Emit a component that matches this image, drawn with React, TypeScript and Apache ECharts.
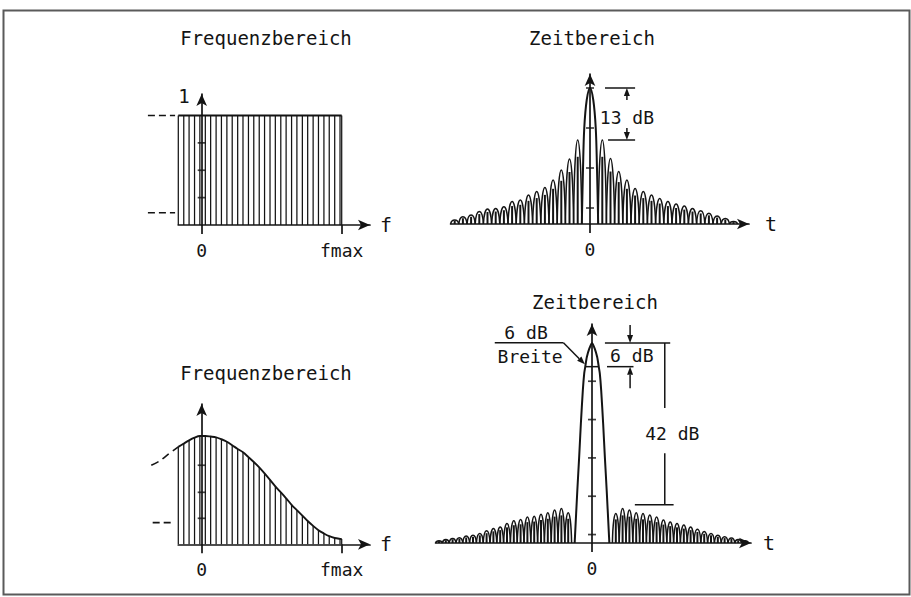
import React, { useEffect, useRef } from 'react';
import * as echarts from 'echarts';

// ---------- data ----------
// frequency sample positions, in units of fmax
const freqSamples = [-0.167, -0.128, -0.09, -0.051, -0.013, 0.026, 0.064, 0.103, 0.141, 0.18, 0.218, 0.257, 0.295, 0.334, 0.372, 0.411, 0.449, 0.488, 0.526, 0.565, 0.603, 0.642, 0.68, 0.719, 0.757, 0.796, 0.834, 0.873, 0.911, 0.95, 0.988, 1.0];
// rectangular weighting (top-left)
const rectWindow = [1, 1, 1, 1, 1, 1, 1, 1, 1, 1, 1, 1, 1, 1, 1, 1, 1, 1, 1, 1, 1, 1, 1, 1, 1, 1, 1, 1, 1, 1, 1, 1];
// Hamming-like weighting (bottom-left)
const hammingWindow = [0.9, 0.93, 0.96, 0.985, 1.0, 1.0, 0.995, 0.988, 0.97, 0.947, 0.915, 0.88, 0.85, 0.805, 0.76, 0.71, 0.655, 0.595, 0.535, 0.48, 0.425, 0.365, 0.315, 0.265, 0.215, 0.17, 0.13, 0.1, 0.075, 0.058, 0.05, 0.049];
// dashed continuation of the window left of the samples
const hammingExtF = [-0.36, -0.3, -0.24, -0.167];
const hammingExtV = [0.73, 0.77, 0.83, 0.9];
const topLeftTicks = [0.25, 0.5, 0.75];
const bottomLeftTicks = [0.24, 0.48, 0.73];
const topLeftDashLevels = [1, 0.112];
const bottomLeftDashLevels = [0.2];
const freqTickValues = [0, 1];
const freqTickLabels = ['0', 'fmax'];

// time domain, rectangular window (dB), main lobe
const sincMainT = [-1, -0.85, -0.7, -0.4, 0, 0.4, 0.7, 0.85, 1];
const sincMainDb = [-34, -20, -10, -3, 0, -3, -10, -20, -34];
// side lobe peaks (dB), from the main lobe outwards
const sincSideRight = [-13.0, -17.6, -20.9, -23.0, -25.1, -25.9, -26.75, -27.6, -28.4, -29.0, -29.5, -30.1, -30.7, -31.3, -32.0, -32.6, -33.4];
const sincSideLeft = [-13.0, -17.75, -20.5, -23.0, -24.9, -25.9, -26.75, -28.0, -28.4, -29.7, -30.1, -30.25, -30.9, -31.75, -32.2, -33.0];
const topRightTicks = [0, -10, -20, -30];

// time domain, Hamming window (dB), main lobe
const hamMainT = [-2.55, -2.5, -2.16, -1.89, -1.64, -1.35, -1.15, -1.0, -0.76, -0.4, 0, 0.4, 0.76, 1.0, 1.15, 1.35, 1.64, 1.89, 2.16, 2.5, 2.55];
const hamMainDb = [-52.2, -50.4, -38.5, -29.8, -21.1, -12.4, -8, -6.3, -3.7, -1.5, 0, -1.5, -3.7, -6.3, -8, -12.4, -21.1, -29.8, -38.5, -50.4, -52.2];
const hamSideRight = [-44.5, -43.2, -43.6, -44.3, -44.5, -44.9, -45.4, -46.2, -46.7, -47.1, -47.5, -48.0, -48.6, -49.2, -49.7, -50.2, -50.6, -50.9, -51.3, -51.6];
const hamSideLeft = [-44.3, -43.2, -43.6, -44.3, -44.7, -45.2, -45.4, -46.1, -46.4, -47.1, -48.0, -48.4, -49.0, -49.7, -50.2, -50.4, -50.8, -51.0, -51.3, -51.6];
const bottomRightTicks = [-10, -20, -30, -40, -50];

// ---------- style ----------
const INK = '#141414';
const FONT = '"DejaVu Sans Mono", "Liberation Mono", monospace';
const font = (s: number) => `${s}px "DejaVu Sans Mono", "Liberation Mono", monospace`;

const axisLine = { color: INK, width: 1.7 };

function xAxisCfg(gridIndex: number, min: number, max: number, ticks: number[], labels: string[], name: string, nameGap: number) {
  return {
    type: 'value', gridIndex, min, max,
    axisLine: { show: true, onZero: false, symbol: ['none', 'arrow'], symbolSize: [8, 12], lineStyle: axisLine },
    axisTick: { show: true, customValues: ticks, length: 9, lineStyle: axisLine },
    axisLabel: {
      show: true, customValues: ticks, margin: 16, color: INK, fontFamily: FONT, fontSize: 18,
      formatter: (v: number) => { const i = ticks.findIndex((t) => Math.abs(t - v) < 1e-9); return i >= 0 ? labels[i] : ''; },
    },
    splitLine: { show: false },
    name, nameLocation: 'end', nameGap,
    nameTextStyle: { color: INK, fontFamily: FONT, fontSize: 20 },
  };
}

function yAxisCfg(gridIndex: number, min: number, max: number, name?: string) {
  return {
    type: 'value', gridIndex, min, max,
    axisLine: { show: true, onZero: true, symbol: ['none', 'arrow'], symbolSize: [8, 12], lineStyle: axisLine },
    axisTick: { show: false }, axisLabel: { show: false }, splitLine: { show: false },
    name: name || '', nameLocation: 'end', nameGap: 8,
    nameTextStyle: { color: INK, fontFamily: FONT, fontSize: 19, align: 'right', verticalAlign: 'top', padding: [0, 12, 0, 0] },
  };
}

function hatchSeries(idx: number, values: number[]) {
  return {
    type: 'custom', xAxisIndex: idx, yAxisIndex: idx, silent: true,
    data: freqSamples.map((f, i) => [f, values[i]]),
    renderItem: (_p: any, api: any) => {
      const a = api.coord([api.value(0), 0]);
      const b = api.coord([api.value(0), api.value(1)]);
      return { type: 'line', shape: { x1: a[0], y1: a[1], x2: b[0], y2: b[1] }, style: { stroke: INK, lineWidth: 1.25 } };
    },
  };
}

function tickSeries(idx: number, values: number[]) {
  return {
    type: 'scatter', xAxisIndex: idx, yAxisIndex: idx, silent: true, z: 5,
    symbol: 'rect', symbolSize: [8, 1.7], itemStyle: { color: INK },
    data: values.map((v) => [0, v]),
  };
}

function dashSeries(idx: number, levels: number[], fromX: number, toX: number) {
  return {
    type: 'custom', xAxisIndex: idx, yAxisIndex: idx, silent: true, clip: false,
    data: levels.map((l) => [0, l]),
    renderItem: (_p: any, api: any) => {
      const a = api.coord([fromX, api.value(1)]);
      const b = api.coord([toX, api.value(1)]);
      return { type: 'line', shape: { x1: a[0], y1: a[1], x2: b[0], y2: b[1] }, style: { stroke: INK, lineWidth: 1.6, lineDash: [7, 4] } };
    },
  };
}

// dashed polyline through data points that lie left of the axis range
function dashedCurveSeries(idx: number, xs: number[], ys: number[]) {
  return {
    type: 'custom', xAxisIndex: idx, yAxisIndex: idx, silent: true, clip: false,
    data: xs.map((x, i) => [x, ys[i]]),
    renderItem: (p: any, api: any) => {
      if (p.dataIndex !== 0) return null;
      const pts = xs.map((x, i) => api.coord([x, ys[i]]));
      return { type: 'polyline', shape: { points: pts, smooth: 0.3 }, style: { stroke: INK, fill: 'none', lineWidth: 1.6, lineDash: [8, 5] } };
    },
  };
}

function lobeSeries(idx: number, right: number[], left: number[], firstCenter: number, baseVal: number) {
  const data = [
    ...right.map((v, i) => [firstCenter + i, v]),
    ...left.map((v, i) => [-(firstCenter + i), v]),
  ];
  return {
    type: 'custom', xAxisIndex: idx, yAxisIndex: idx, silent: true,
    data,
    renderItem: (_p: any, api: any) => {
      const xc = api.value(0);
      const p0 = api.coord([xc - 0.5, baseVal]);
      const p1 = api.coord([xc + 0.5, baseVal]);
      const pk = api.coord([xc, api.value(1)]);
      const h = p0[1] - pk[1];
      const cy = p0[1] - h / 0.75;
      const w = p1[0] - p0[0];
      return {
        type: 'group',
        children: [
          { type: 'bezierCurve', shape: { x1: p0[0], y1: p0[1], x2: p1[0], y2: p1[1], cpx1: p0[0] + w * 0.12, cpy1: cy, cpx2: p1[0] - w * 0.12, cpy2: cy }, style: { stroke: INK, fill: 'none', lineWidth: 1.5 } },
          { type: 'line', shape: { x1: pk[0], y1: p0[1], x2: pk[0], y2: pk[1] + h * 0.2 }, style: { stroke: INK, lineWidth: 2 } },
        ],
      };
    },
  };
}

function seg(api: any, a: number[], b: number[], w = 1.5) {
  const p = api.coord(a), q = api.coord(b);
  return { type: 'line', shape: { x1: p[0], y1: p[1], x2: q[0], y2: q[1] }, style: { stroke: INK, lineWidth: w } };
}
function arrow(api: any, from: number[], tip: number[]) {
  const p = api.coord(from), q = api.coord(tip);
  const dx = q[0] - p[0], dy = q[1] - p[1];
  const len = Math.hypot(dx, dy) || 1;
  const ux = dx / len, uy = dy / len;
  const bx = q[0] - ux * 8, by = q[1] - uy * 8;
  return [
    { type: 'line', shape: { x1: p[0], y1: p[1], x2: bx, y2: by }, style: { stroke: INK, lineWidth: 1.5 } },
    { type: 'polygon', shape: { points: [[q[0], q[1]], [bx - uy * 3, by + ux * 3], [bx + uy * 3, by - ux * 3]] }, style: { fill: INK } },
  ];
}
function label(api: any, at: number[], text: string, size = 18, align = 'center') {
  const p = api.coord(at);
  return { type: 'text', x: p[0], y: p[1], style: { text, font: font(size), fill: INK, align, verticalAlign: 'middle' } };
}

function buildOption() {
  return {
    animation: false,
    backgroundColor: '#ffffff',
    grid: [
      { left: 178.3, top: 94, width: 191.7, height: 131 },
      { left: 450.6, top: 74, width: 298.4, height: 150 },
      { left: 178.3, top: 404, width: 191.7, height: 140.3 },
      { left: 435.6, top: 324, width: 315.4, height: 219 },
    ],
    xAxis: [
      xAxisCfg(0, -0.167, 1.2021, freqTickValues, freqTickLabels, 'f', 10),
      xAxisCfg(1, -17, 19.39, [0], ['0'], 't', 16),
      xAxisCfg(2, -0.167, 1.2021, freqTickValues, freqTickLabels, 'f', 10),
      xAxisCfg(3, -23, 23.38, [0], ['0'], 't', 12),
    ],
    yAxis: [
      yAxisCfg(0, 0, 1.1963, '1'),
      yAxisCfg(1, -34, 3.5),
      yAxisCfg(2, 0, 1.2955),
      yAxisCfg(3, -52.2, 4.93),
    ],
    graphic: [
      { type: 'rect', shape: { x: 3.5, y: 10.5, width: 906, height: 584 }, style: { fill: 'none', stroke: '#5a5a5a', lineWidth: 2 } },
      { type: 'text', x: 266, y: 38, style: { text: 'Frequenzbereich', font: font(19), fill: INK, align: 'center', verticalAlign: 'middle' } },
      { type: 'text', x: 592, y: 38, style: { text: 'Zeitbereich', font: font(19), fill: INK, align: 'center', verticalAlign: 'middle' } },
      { type: 'text', x: 266, y: 373, style: { text: 'Frequenzbereich', font: font(19), fill: INK, align: 'center', verticalAlign: 'middle' } },
      { type: 'text', x: 595, y: 302, style: { text: 'Zeitbereich', font: font(19), fill: INK, align: 'center', verticalAlign: 'middle' } },
    ],
    series: [
      // ---- top-left: rectangular window ----
      hatchSeries(0, rectWindow),
      { type: 'line', xAxisIndex: 0, yAxisIndex: 0, silent: true, symbol: 'none', lineStyle: { color: INK, width: 1.9 }, data: freqSamples.map((f, i) => [f, rectWindow[i]]) },
      tickSeries(0, topLeftTicks),
      dashSeries(0, topLeftDashLevels, -0.384, -0.19),

      // ---- top-right: rectangular window, time domain ----
      { type: 'line', xAxisIndex: 1, yAxisIndex: 1, silent: true, symbol: 'none', smooth: 0.35, lineStyle: { color: INK, width: 2 }, data: sincMainT.map((t, i) => [t, sincMainDb[i]]) },
      lobeSeries(1, sincSideRight, sincSideLeft, 1.5, -34),
      tickSeries(1, topRightTicks),
      {
        type: 'custom', xAxisIndex: 1, yAxisIndex: 1, silent: true, clip: false, data: [[0, 0]],
        renderItem: (_p: any, api: any) => ({
          type: 'group',
          children: [
            seg(api, [1.83, 0], [5.5, 0]),
            seg(api, [2.2, -13], [5.5, -13]),
            ...arrow(api, [4.5, -3], [4.5, 0]),
            ...arrow(api, [4.5, -10], [4.5, -13]),
            label(api, [4.5, -7.3], '13 dB'),
          ],
        }),
      },

      // ---- bottom-left: Hamming window ----
      hatchSeries(2, hammingWindow),
      { type: 'line', xAxisIndex: 2, yAxisIndex: 2, silent: true, symbol: 'none', smooth: 0.3, lineStyle: { color: INK, width: 1.9 }, data: freqSamples.map((f, i) => [f, hammingWindow[i]]) },
      dashedCurveSeries(2, hammingExtF, hammingExtV),
      tickSeries(2, bottomLeftTicks),
      dashSeries(2, bottomLeftDashLevels, -0.35, -0.2),

      // ---- bottom-right: Hamming window, time domain ----
      { type: 'line', xAxisIndex: 3, yAxisIndex: 3, silent: true, symbol: 'none', smooth: 0.25, lineStyle: { color: INK, width: 2 }, data: hamMainT.map((t, i) => [t, hamMainDb[i]]) },
      lobeSeries(3, hamSideRight, hamSideLeft, 3.5, -52.2),
      tickSeries(3, bottomRightTicks),
      {
        type: 'custom', xAxisIndex: 3, yAxisIndex: 3, silent: true, clip: false, data: [[0, 0]],
        renderItem: (_p: any, api: any) => ({
          type: 'group',
          children: [
            // 6 dB width marker and leader
            seg(api, [-1.0, -6.2], [1.0, -6.2]),
            seg(api, [-14.3, 0.05], [-4.2, 0.05]),
            ...arrow(api, [-4.2, 0.05], [-1.05, -5.6]),
            label(api, [-9.7, 2.6], '6 dB'),
            label(api, [-9.1, -3.6], 'Breite'),
            // 6 dB dimension
            seg(api, [1.9, 0], [11.5, 0]),
            seg(api, [2.2, -6.2], [6.1, -6.2]),
            ...arrow(api, [5.6, 4.7], [5.6, 0]),
            ...arrow(api, [5.6, -11.8], [5.6, -6.2]),
            label(api, [5.85, -3.3], '6 dB'),
            // 42 dB dimension
            seg(api, [10.7, 0], [10.7, -17]),
            seg(api, [10.7, -28.8], [10.7, -42.2]),
            seg(api, [6.3, -42.2], [12.0, -42.2]),
            label(api, [11.8, -23.6], '42 dB'),
          ],
        }),
      },
    ],
  };
}

export default function App() {
  const ref = useRef<HTMLDivElement>(null);
  useEffect(() => {
    document.body.style.margin = '0';
    const chart = echarts.init(ref.current as HTMLDivElement, null, { renderer: 'svg' });
    chart.setOption(buildOption() as any);
    return () => chart.dispose();
  }, []);
  return <div ref={ref} style={{ width: 911, height: 597, background: '#fff' }} />;
}
